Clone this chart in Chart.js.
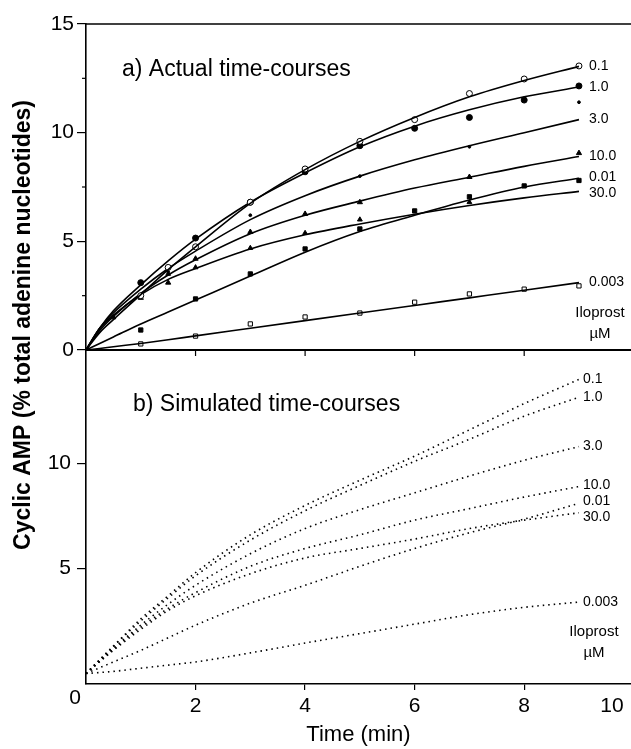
<!DOCTYPE html>
<html><head><meta charset="utf-8">
<script src="https://cdn.jsdelivr.net/npm/chart.js@4/dist/chart.umd.min.js"></script>
<style>html,body{margin:0;padding:0;background:#fff;}canvas{display:block;}</style>
</head><body>
<canvas id="c" width="631" height="749"></canvas>
<script>
// ---- data ----
const seriesNames = ['0.1','1.0','3.0','10.0','30.0','0.01','0.003'];
const xTickValues = [0, 2, 4, 6, 8, 10];
const yTickValuesTop = [0, 5, 10, 15];
const yTickValuesBottom = [5, 10];

// a) measured points (min), null = no marker
const sampleTimes = [0.5, 1, 1.5, 2, 3, 4, 5, 6, 7, 8, 9];
const actual_0_1   = [null, 2.5, 3.8, 4.75, 6.8, 8.33, 9.6, 10.6, 11.8, 12.47, 13.07];
const actual_1_0   = [null, 3.1, null, 5.15, 6.8, 8.2, 9.4, 10.2, 10.7, 11.5, 12.15];
const actual_3_0   = [null, null, 3.6, null, 6.2, null, 8.0, null, 9.35, null, 11.4];
const actual_10_0  = [null, 2.4, 3.1, 4.2, 5.43, 6.26, 6.8, null, 7.96, null, 9.06];
const actual_30_0  = [1.5, null, 3.5, 3.8, 4.69, 5.38, 6.0, null, 6.8, null, null];
const actual_0_01  = [null, 0.92, null, 2.35, 3.5, 4.65, 5.57, 6.4, 7.05, 7.55, 7.8];
const actual_0_003 = [null, 0.28, null, 0.64, 1.2, 1.52, 1.7, 2.2, 2.58, 2.8, 2.95];

// a) fitted curves
const fitTimes = [0, 0.25, 0.5, 1, 1.5, 2, 3, 4, 5, 6, 7, 8, 9];
const fit_0_1   = [0, 0.8, 1.4, 2.55, 3.7, 4.75, 6.75, 8.3, 9.6, 10.7, 11.65, 12.4, 13.05];
const fit_1_0   = [0, 1.0, 1.8, 3.0, 4.1, 5.1, 6.8, 8.15, 9.35, 10.3, 11.05, 11.65, 12.1];
const fit_3_0   = [0, 1.0, 1.7, 2.8, 3.75, 4.55, 6.0, 7.1, 8.0, 8.75, 9.4, 10.0, 10.6];
const fit_10_0  = [0, 0.9, 1.55, 2.6, 3.45, 4.15, 5.35, 6.2, 6.85, 7.45, 7.95, 8.45, 8.9];
const fit_30_0  = [0, 1.0, 1.6, 2.55, 3.25, 3.75, 4.65, 5.3, 5.8, 6.25, 6.65, 7.0, 7.3];
const fit_0_01  = [0, 0.3, 0.6, 1.2, 1.75, 2.3, 3.4, 4.5, 5.45, 6.2, 6.9, 7.5, 7.9];
const fit_0_003 = [0, 0.07, 0.15, 0.3, 0.47, 0.65, 1.0, 1.35, 1.7, 2.05, 2.4, 2.75, 3.1];

// b) simulated curves
const simTimes = [0, 0.5, 1, 1.5, 2, 3, 4, 5, 6, 7, 8, 9];
const sim_0_1   = [0, 1.3, 2.6, 3.7, 4.8, 6.6, 8.0, 9.2, 10.35, 11.6, 12.85, 14.0];
const sim_1_0   = [0, 1.3, 2.5, 3.6, 4.65, 6.35, 7.75, 8.95, 10.1, 11.15, 12.25, 13.15];
const sim_3_0   = [0, 1.2, 2.3, 3.3, 4.2, 5.7, 6.9, 7.8, 8.6, 9.4, 10.15, 10.8];
const sim_10_0  = [0, 1.15, 2.2, 3.1, 3.85, 5.1, 5.95, 6.6, 7.3, 7.85, 8.4, 8.9];
const sim_30_0  = [0, 1.1, 2.1, 3.0, 3.7, 4.75, 5.5, 5.95, 6.4, 6.9, 7.3, 7.65];
const sim_0_01  = [0, 0.55, 1.1, 1.7, 2.3, 3.35, 4.2, 5.1, 5.95, 6.7, 7.35, 8.1];
const sim_0_003 = [0, 0.1, 0.25, 0.4, 0.55, 0.98, 1.45, 1.9, 2.35, 2.8, 3.15, 3.4];

const actualSets = [actual_0_1, actual_1_0, actual_3_0, actual_10_0, actual_30_0, actual_0_01, actual_0_003];
const fitSets = [fit_0_1, fit_1_0, fit_3_0, fit_10_0, fit_30_0, fit_0_01, fit_0_003];
const simSets = [sim_0_1, sim_1_0, sim_3_0, sim_10_0, sim_30_0, sim_0_01, sim_0_003];

// ---- styles ----
const FONT = '"Liberation Sans", Arial, Helvetica, sans-serif';
const markerStyles = [
  {pointStyle:'circle', radius:3, fill:'#fff'},
  {pointStyle:'circle', radius:3, fill:'#000'},
  {pointStyle:'circle', radius:1.4, fill:'#000'},
  {pointStyle:'triangle', radius:3, fill:'#000'},
  {pointStyle:'triangle', radius:2.8, fill:'#000'},
  {pointStyle:'rect', radius:3, fill:'#000'},
  {pointStyle:'rect', radius:3, fill:'#fff'}
];

const toXY = (xs, ys) => xs.map((x, i) => ({x, y: ys[i]})).filter(p => p.y !== null);

const datasets = [];
seriesNames.forEach((name, i) => {
  datasets.push({
    label: name, panel: 'a', isCurve: true, yAxisID: 'yTop',
    data: toXY(fitTimes, fitSets[i]),
    borderColor: '#000', borderWidth: 1.6, pointRadius: 0,
    cubicInterpolationMode: 'monotone', fill: false
  });
  const m = markerStyles[i];
  datasets.push({
    label: name + ' data', panel: 'a', isCurve: false, yAxisID: 'yTop',
    data: toXY(sampleTimes, actualSets[i]),
    showLine: false, pointStyle: m.pointStyle, pointRadius: m.radius,
    pointBackgroundColor: m.fill, pointBorderColor: '#000', pointBorderWidth: 1
  });
  datasets.push({
    label: name, panel: 'b', isCurve: true, yAxisID: 'yBot',
    data: toXY(simTimes, simSets[i]),
    borderColor: '#000', borderWidth: 1.6, borderDash: [1.5, 4], pointRadius: 0,
    cubicInterpolationMode: 'monotone', fill: false
  });
});

const tickFont = {family: FONT, size: 21};

const figurePlugin = {
  id: 'figure',
  afterDraw(chart) {
    const c = chart.ctx, a = chart.chartArea;
    const xs = chart.scales.x, yt = chart.scales.yTop, yb = chart.scales.yBot;
    c.save();
    c.strokeStyle = '#000'; c.fillStyle = '#000';
    // top frame line
    c.lineWidth = 1.5;
    c.beginPath(); c.moveTo(a.left, yt.top); c.lineTo(a.right, yt.top); c.stroke();
    // separator = x-axis of panel a
    const y0 = yt.getPixelForValue(0);
    c.lineWidth = 2.2;
    c.beginPath(); c.moveTo(a.left, y0); c.lineTo(a.right, y0); c.stroke();
    c.lineWidth = 1.2;
    [2, 4, 6, 8].forEach(v => {
      const px = xs.getPixelForValue(v);
      c.beginPath(); c.moveTo(px, y0); c.lineTo(px, y0 + 6); c.stroke();
    });
    // minor ticks on panel a y-axis
    [2.5, 7.5, 12.5].forEach(v => {
      const py = yt.getPixelForValue(v);
      c.beginPath(); c.moveTo(a.left - 4, py); c.lineTo(a.left, py); c.stroke();
    });
    // corner labels of x axis
    c.font = `21px ${FONT}`; c.textBaseline = 'middle'; c.textAlign = 'center';
    c.fillText('0', a.left - 11, xs.top + 14);
    c.fillText(String(xTickValues[xTickValues.length - 1]), chart.width - 19, xs.top + 22);
    // panel titles
    c.font = `23px ${FONT}`; c.textAlign = 'left';
    c.fillText('a) Actual time-courses', a.left + 36, yt.top + 46);
    c.fillText('b) Simulated time-courses', a.left + 47, yb.top + 55);
    // y title
    c.save();
    c.translate(24, (a.top + a.bottom) / 2 - 29);
    c.rotate(-Math.PI / 2);
    c.font = `bold 23px ${FONT}`; c.textAlign = 'center';
    c.fillText('Cyclic AMP (% total adenine nucleotides)', 0, 0);
    c.restore();
    // series end labels
    c.font = `14px ${FONT}`; c.textAlign = 'left';
    ['a', 'b'].forEach(panel => {
      const items = [];
      chart.data.datasets.forEach((ds, i) => {
        if (ds.panel !== panel || !ds.isCurve) return;
        const pts = chart.getDatasetMeta(i).data;
        const last = pts[pts.length - 1];
        items.push({text: ds.label, x: last.x + (panel === 'a' ? 10 : 4), y: last.y});
      });
      items.sort((p, q) => p.y - q.y);
      for (let it = 0; it < 60; it++) {
        let moved = false;
        for (let k = 1; k < items.length; k++) {
          const d = items[k].y - items[k - 1].y;
          if (d < 16) { const s = (16 - d) / 2; items[k - 1].y -= s; items[k].y += s; moved = true; }
        }
        if (!moved) break;
      }
      items.forEach(p => c.fillText(p.text, p.x, p.y));
      const low = items[items.length - 1];
      c.font = `15px ${FONT}`; c.textAlign = 'center';
      c.fillText('Iloprost', low.x + 11, low.y + 30);
      c.fillText('\u00B5M', low.x + 11, low.y + 51);
      c.font = `14px ${FONT}`; c.textAlign = 'left';
    });
    c.restore();
  }
};

new Chart(document.getElementById('c'), {
  type: 'line',
  data: {datasets},
  options: {
    responsive: false, animation: false, devicePixelRatio: 1,
    layout: {autoPadding: false, padding: {left: 40, top: 24, right: 0, bottom: 1}},
    plugins: {legend: {display: false}, tooltip: {enabled: false}},
    scales: {
      x: {
        type: 'linear', min: 0, max: 9.95,
        border: {display: true, color: '#000', width: 1.6},
        grid: {drawOnChartArea: false, tickLength: 6, lineWidth: 1.2,
               tickColor: ctx => (ctx.tick && ctx.tick.value === 0) ? 'rgba(0,0,0,0)' : '#000'},
        ticks: {stepSize: 2, includeBounds: false, color: '#000', font: tickFont, padding: 4, maxRotation: 0,
                callback: v => (v === 0 ? '' : String(v))},
        afterBuildTicks: s => { s.ticks = s.ticks.filter(t => xTickValues.includes(t.value) && t.value < 10); },
        afterFit: s => { s.height = 64; s.paddingRight = 0; s.paddingLeft = 0; },
        title: {display: true, text: 'Time (min)', color: '#000', font: {family: FONT, size: 22}, padding: {top: 6, bottom: 0}}
      },
      yBot: {
        type: 'linear', position: 'left', stack: 'panels', stackWeight: 334,
        min: -0.5, max: 15.4,
        border: {display: true, color: '#000', width: 1.6},
        grid: {drawOnChartArea: false, tickLength: 9, lineWidth: 1.2, color: '#000'},
        ticks: {stepSize: 5, includeBounds: false, color: '#000', font: tickFont, padding: 6},
        afterBuildTicks: s => { s.ticks = s.ticks.filter(t => yTickValuesBottom.includes(t.value)); },
        afterFit: s => { s.width = 46; }
      },
      yTop: {
        type: 'linear', position: 'left', stack: 'panels', stackWeight: 326,
        min: 0, max: 15,
        border: {display: true, color: '#000', width: 1.6},
        grid: {drawOnChartArea: false, tickLength: 9, lineWidth: 1.2, color: '#000'},
        ticks: {stepSize: 5, color: '#000', font: tickFont, padding: 3},
        afterBuildTicks: s => { s.ticks = s.ticks.filter(t => yTickValuesTop.includes(t.value)); },
        afterFit: s => { s.width = 46; }
      }
    }
  },
  plugins: [figurePlugin]
});
</script>
</body></html>
